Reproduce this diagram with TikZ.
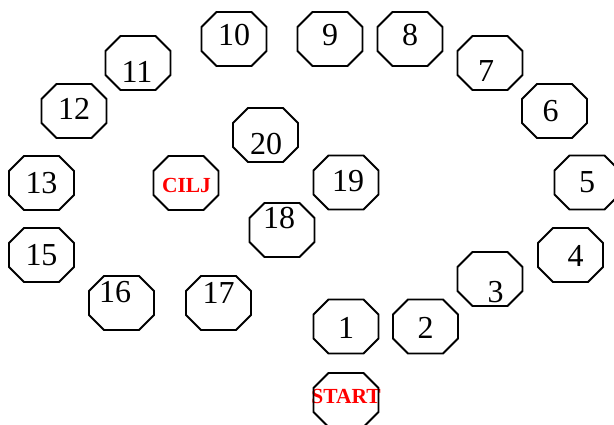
\documentclass[tikz,border=0pt]{standalone}
\usepackage{fontspec}
\setmainfont{Liberation Serif}
\begin{document}
\begin{tikzpicture}[x=1pt,y=-1pt,
  oct/.style={rectangle, minimum width=65pt, minimum height=54pt,
    inner sep=0pt, outer sep=0pt},
  octline/.style={draw, line width=1.8pt, line join=miter},
  num/.style={font=\fontsize{32}{32}\selectfont, inner sep=0pt},
  goal/.style={font=\fontsize{21.5}{21.5}\selectfont\bfseries, text=red, inner sep=0pt}]
\useasboundingbox (0,0) rectangle (614,425);
\node[oct, label={[num, shift={(0,-4)}]center:10}] (n10) at (234,39) {};
\node[oct, label={[num, shift={(0,-4)}]center:9}] (n9) at (330,39) {};
\node[oct, label={[num, shift={(0,-4)}]center:8}] (n8) at (410,39) {};
\node[oct, label={[num, shift={(-4,8.5)}]center:7}] (n7) at (490,63) {};
\node[oct, label={[num, shift={(-4,0)}]center:6}] (n6) at (554.5,111) {};
\node[oct, label={[num, shift={(0,0)}]center:5}] (n5) at (587,182.5) {};
\node[oct, label={[num, shift={(5,1)}]center:4}] (n4) at (570.5,255) {};
\node[oct, label={[num, shift={(5.5,13.5)}]center:3}] (n3) at (490,279) {};
\node[oct, label={[num, shift={(0,1)}]center:2}] (n2) at (425.5,326.5) {};
\node[oct, label={[num, shift={(0,1)}]center:1}] (n1) at (346,326.5) {};
\node[oct, label={[goal, shift={(0,-3.5)}]center:START}] (start) at (346,400) {};
\node[oct, label={[num, shift={(-1,9)}]center:11}] (n11) at (138,63) {};
\node[oct, label={[num, shift={(0,-2)}]center:12}] (n12) at (74,111) {};
\node[oct, label={[num, shift={(0,0)}]center:13}] (n13) at (41.5,183) {};
\node[oct, label={[num, shift={(0,0)}]center:15}] (n15) at (41.5,255) {};
\node[oct, label={[num, shift={(-6.5,-10.5)}]center:16}] (n16) at (121.5,303) {};
\node[oct, label={[num, shift={(0,-10.5)}]center:17}] (n17) at (218.5,303) {};
\node[oct, label={[num, shift={(-3,-12)}]center:18}] (n18) at (282,230) {};
\node[oct, label={[num, shift={(2,-1)}]center:19}] (n19) at (346,182.5) {};
\node[oct, label={[num, shift={(0.5,9)}]center:20}] (n20) at (265.5,135) {};
\node[oct, label={[goal, shift={(0.5,2)}]center:CILJ}] (cilj) at (186,183) {};
\foreach \n in {n1,n2,n3,n4,n5,n6,n7,n8,n9,n10,n11,n12,n13,n15,n16,n17,n18,n19,n20,cilj,start}
  \draw[octline]
    ([xshift=15pt]\n.north west) -- ([xshift=-15pt]\n.north east)
    -- ([yshift=-15pt]\n.north east) -- ([yshift=15pt]\n.south east)
    -- ([xshift=-15pt]\n.south east) -- ([xshift=15pt]\n.south west)
    -- ([yshift=15pt]\n.south west) -- ([yshift=-15pt]\n.north west)
    -- cycle;
\end{tikzpicture}
\end{document}
